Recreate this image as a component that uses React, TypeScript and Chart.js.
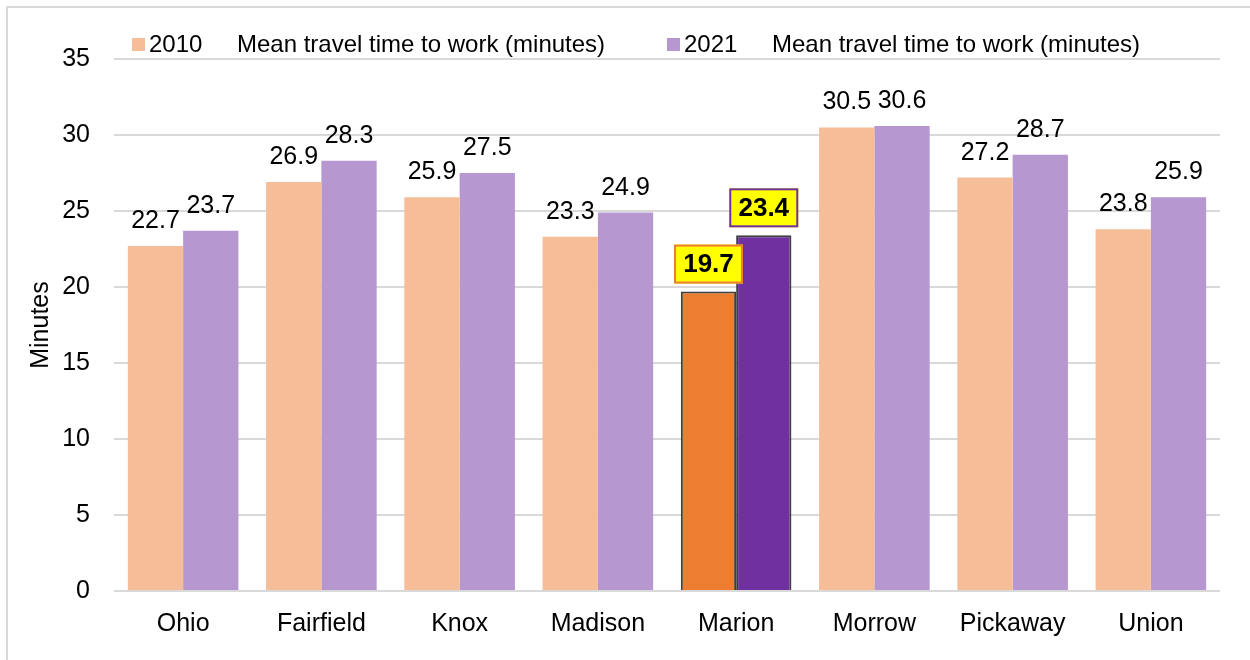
import React, { useEffect, useRef } from 'react';
import { Chart, registerables } from 'chart.js';

Chart.register(...registerables);

const counties = ['Ohio', 'Fairfield', 'Knox', 'Madison', 'Marion', 'Morrow', 'Pickaway', 'Union'];
const values2010 = [22.7, 26.9, 25.9, 23.3, 19.7, 30.5, 27.2, 23.8];
const values2021 = [23.7, 28.3, 27.5, 24.9, 23.4, 30.6, 28.7, 25.9];
const seriesYears = ['2010', '2021'];
const seriesName = 'Mean travel time to work (minutes)';
const highlightCounty = 'Marion';
const yAxisTitle = 'Minutes';
const yMin = 0;
const yMax = 35;
const yStep = 5;

const FONT = '"Liberation Sans", Arial, sans-serif';
const lightColors = ['#F6BE98', '#B797CF'];
const strongColors = ['#ED7D31', '#7030A0'];
const valueSeries = [values2010, values2021];

const legendPlugin = {
  id: 'customLegend',
  afterDraw(chart: any) {
    const ctx = chart.ctx;
    const left = chart.chartArea.left;
    ctx.save();
    chart.data.datasets.forEach((ds: any, di: number) => {
      const bx = left + 18 + di * 535;
      const cy = 36;
      ctx.fillStyle = lightColors[di];
      ctx.fillRect(bx, cy - 6, 13, 13);
      ctx.fillStyle = '#000';
      ctx.font = `24px ${FONT}`;
      ctx.textAlign = 'left';
      ctx.textBaseline = 'middle';
      ctx.fillText(seriesYears[di], bx + 17, cy + 1);
      ctx.fillText(seriesName, bx + 105, cy + 1);
    });
    ctx.restore();
  },
};

const labelPlugin = {
  id: 'valueLabels',
  afterDatasetsDraw(chart: any) {
    const ctx = chart.ctx;
    chart.data.datasets.forEach((ds: any, di: number) => {
      const meta = chart.getDatasetMeta(di);
      meta.data.forEach((el: any, i: number) => {
        const v = ds.data[i];
        const txt = Number(v).toFixed(1);
        const x = el.x;
        const y = el.y;
        ctx.save();
        if (chart.data.labels[i] === highlightCounty) {
          ctx.font = `bold 26px ${FONT}`;
          const w = 69;
          const h = 39;
          const bx = x - w / 2;
          const by = y - 8 - h;
          ctx.fillStyle = '#FFFF00';
          ctx.fillRect(bx, by, w, h);
          ctx.strokeStyle = strongColors[di];
          ctx.lineWidth = 2;
          ctx.strokeRect(bx + 1, by + 1, w - 2, h - 2);
          ctx.fillStyle = '#000';
          ctx.textAlign = 'center';
          ctx.textBaseline = 'middle';
          ctx.fillText(txt, x, by + h / 2 + 1);
        } else {
          ctx.font = `25px ${FONT}`;
          ctx.fillStyle = '#000';
          ctx.textAlign = 'center';
          ctx.textBaseline = 'alphabetic';
          ctx.fillText(txt, x, y - 18);
        }
        ctx.restore();
      });
    });
  },
};

export default function App() {
  const canvasRef = useRef<HTMLCanvasElement | null>(null);

  useEffect(() => {
    document.body.style.overflow = 'hidden';
    const canvas = canvasRef.current;
    if (!canvas) return;
    const chart = new Chart(canvas, {
      type: 'bar',
      data: {
        labels: counties,
        datasets: seriesYears.map((yr, di) => ({
          label: `${yr}     ${seriesName}`,
          data: valueSeries[di],
          backgroundColor: counties.map((c) => (c === highlightCounty ? strongColors[di] : lightColors[di])),
          borderColor: counties.map((c) => (c === highlightCounty ? '#3f3f3f' : 'rgba(0,0,0,0)')),
          borderWidth: counties.map((c) => (c === highlightCounty ? 2 : 0)),
          categoryPercentage: 0.8,
          barPercentage: 1.0,
        })),
      },
      options: {
        responsive: false,
        animation: false,
        devicePixelRatio: 1,
        layout: { padding: { top: 51, right: 30, left: 0, bottom: 0 } },
        plugins: {
          legend: { display: false },
          tooltip: { enabled: false },
        },
        scales: {
          x: {
            grid: { display: false, drawTicks: false },
            border: { display: false },
            ticks: {
              color: '#000',
              font: { family: FONT, size: 25 },
              padding: 18,
              maxRotation: 0,
            },
            afterFit: (scale: any) => {
              scale.height = 69;
            },
          },
          y: {
            min: yMin,
            max: yMax,
            grid: { color: '#d9d9d9', lineWidth: 2, drawTicks: false },
            border: { display: false },
            ticks: {
              stepSize: yStep,
              color: '#000',
              font: { family: FONT, size: 25 },
              padding: 24,
            },
            title: {
              display: true,
              text: yAxisTitle,
              color: '#000',
              font: { family: FONT, size: 25 },
              padding: { top: 18, bottom: 0 },
            },
            afterFit: (scale: any) => {
              scale.width = 106;
            },
          },
        },
      },
      plugins: [legendPlugin, labelPlugin],
    });
    return () => {
      chart.destroy();
    };
  }, []);

  return (
    <div
      style={{
        position: 'absolute',
        left: 6,
        top: 6,
        width: 1262,
        height: 672,
        border: '2px solid #d9d9d9',
        boxSizing: 'border-box',
        background: '#fff',
      }}
    >
      <canvas ref={canvasRef} width={1242} height={652} style={{ display: 'block', width: 1242, height: 652 }} />
    </div>
  );
}
